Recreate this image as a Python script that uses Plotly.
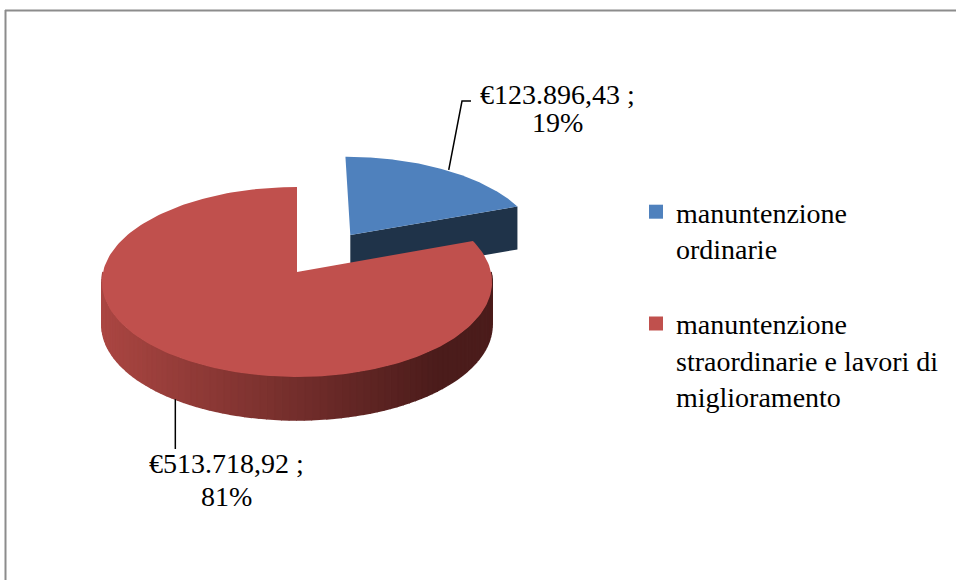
import numpy as np
import plotly.graph_objects as go

# ---- data ----
categories = ["manuntenzione ordinarie", "manuntenzione straordinarie e lavori di miglioramento"]
legend_labels = ["manuntenzione<br>ordinarie", "manuntenzione<br>straordinarie e lavori di<br>miglioramento"]
values = [123896.43, 513718.92]
value_texts = ["€123.896,43 ;", "€513.718,92 ;"]
top_colors = ["#4F81BD", "#C0504D"]
cut_colors = ["#1F3349", "#7A2E2C"]
explode = [0.5, 0.0]

# ---- 3D-pie geometry (pixel space) ----
W, Hpx = 956, 580
cx, cy = 297.0, 272.0      # projected centre of the pie
R, S, p = 194.0, 93.9, 0.105  # horizontal radius, vertical radius, perspective
DEPTH = 43.0
FONT = "Liberation Serif"
FS = 28

def proj(u, v, z=0.0):
    d = 1 + p * v
    return cx + R * u / d, cy - S * v / d + z

total = sum(values)
fracs = [v / total for v in values]
starts, ends = [], []
acc = 0.0
for f in fracs:
    starts.append(acc * 2 * np.pi)
    acc += f
    ends.append(acc * 2 * np.pi)

fig = go.Figure()

def poly(xs, ys, color, width=0):
    fig.add_trace(go.Scatter(x=xs, y=ys, mode="lines", fill="toself", fillcolor=color,
                             line=dict(color=color, width=width), hoverinfo="skip",
                             showlegend=False))

def hex2rgb(h):
    h = h.lstrip("#")
    return [int(h[i:i + 2], 16) for i in (0, 2, 4)]

side_l, side_r = hex2rgb("#AA4642"), hex2rgb("#4B1C1B")

def side_color(x):
    t = min(max((x - 105) / (440 - 105), 0), 1)
    c = [int(side_l[k] + (side_r[k] - side_l[k]) * t) for k in range(3)]
    return "rgb(%d,%d,%d)" % tuple(c)

offsets = []
for i in range(len(values)):
    mid = (starts[i] + ends[i]) / 2
    offsets.append((explode[i] * np.sin(mid), explode[i] * np.cos(mid)))

anchors = []
for i in range(len(values)):
    ou, ov = offsets[i]
    a0, a1 = starts[i], ends[i]
    # outer side (visible where facing viewer)
    s0, s1 = max(a0, np.pi / 2), min(a1, 3 * np.pi / 2)
    if s1 > s0:
        edges = np.linspace(s0, s1, 91)
        for k in range(len(edges) - 1):
            th = np.linspace(edges[k], edges[k + 1], 4)
            top = [proj(np.sin(t) + ou, np.cos(t) + ov) for t in th]
            bot = [proj(np.sin(t) + ou, np.cos(t) + ov, DEPTH) for t in th[::-1]]
            pts = top + bot
            xm = np.mean([q[0] for q in pts])
            poly([q[0] for q in pts], [q[1] for q in pts], side_color(xm), width=1.6)
    # cut face at end angle (faces viewer when end angle < 180 deg)
    if ends[i] < np.pi:
        t = a1
        pts = [proj(ou, ov), proj(np.sin(t) + ou, np.cos(t) + ov),
               proj(np.sin(t) + ou, np.cos(t) + ov, DEPTH), proj(ou, ov, DEPTH)]
        poly([q[0] for q in pts], [q[1] for q in pts], cut_colors[i])
    # top face
    th = np.linspace(a0, a1, 200)
    pts = [proj(ou, ov)] + [proj(np.sin(t) + ou, np.cos(t) + ov) for t in th]
    poly([q[0] for q in pts], [q[1] for q in pts], top_colors[i])
    mid = (a0 + a1) / 2
    if np.cos(mid) >= 0:
        anchors.append(proj(np.sin(mid) + ou, np.cos(mid) + ov))
    else:
        anchors.append(proj(np.sin(mid) + ou, np.cos(mid) + ov, DEPTH))

# ---- data labels with leader lines ----
label_x = [557, 226]
label_y1 = [94, 463]
label_y2 = [122, 496]
pct = [round(f * 100) for f in fracs]
for i in range(len(values)):
    ax_, ay_ = anchors[i]
    if i == 0:
        xs, ys = [ax_ + 4, 462, 471], [ay_, 101, 101]
    else:
        xs, ys = [ax_, ax_], [ay_, 449]
    fig.add_trace(go.Scatter(x=xs, y=ys, mode="lines", line=dict(color="black", width=1.5),
                             hoverinfo="skip", showlegend=False))
    for txt, yy in ((value_texts[i], label_y1[i]), (f"{pct[i]}%", label_y2[i])):
        fig.add_annotation(x=label_x[i], y=yy, text=txt, showarrow=False,
                           xref="x", yref="y", xanchor="center", yanchor="middle",
                           font=dict(family=FONT, size=FS, color="black"))

# ---- legend entries ----
for i in range(len(values)):
    fig.add_trace(go.Scatter(x=[None], y=[None], mode="markers", name=legend_labels[i],
                             legendgroup=f"g{i}",
                             marker=dict(symbol="square", size=14, color=top_colors[i])))

# ---- frame ----
fig.add_shape(type="line", x0=5, x1=W + 5, y0=10.5, y1=10.5, xref="x", yref="y",
              line=dict(color="#8C8C8C", width=2))
fig.add_shape(type="line", x0=5.5, x1=5.5, y0=10, y1=Hpx + 5, xref="x", yref="y",
              line=dict(color="#8C8C8C", width=2))

fig.update_layout(
    width=W, height=Hpx,
    margin=dict(l=0, r=0, t=0, b=0),
    paper_bgcolor="white", plot_bgcolor="white",
    xaxis=dict(range=[0, W], visible=False, fixedrange=True),
    yaxis=dict(range=[Hpx, 0], visible=False, fixedrange=True),
    showlegend=True,
    legend=dict(x=636 / W, y=1 - 187 / Hpx, xanchor="left", yanchor="top",
                font=dict(family=FONT, size=FS, color="black"),
                tracegroupgap=36, traceorder="grouped", valign="top",
                bgcolor="rgba(0,0,0,0)"),
    hovermode=False,
)

fig.write_html("out.html", config={"displayModeBar": False, "staticPlot": True},
               post_script="document.body.style.margin='0';document.body.style.overflow='hidden';")
